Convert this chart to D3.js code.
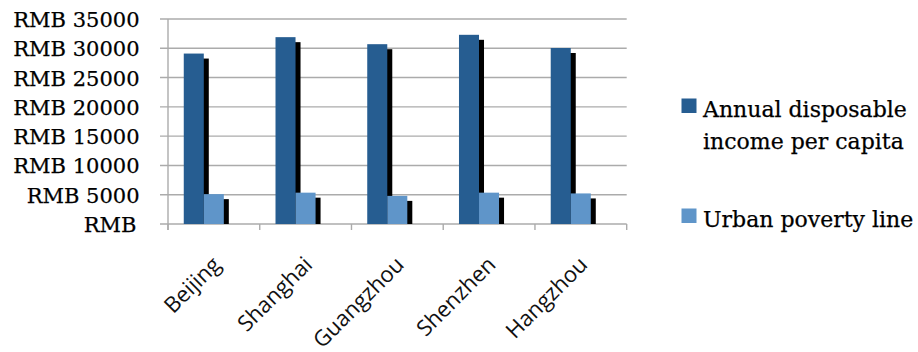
<!DOCTYPE html>
<html>
<head>
<meta charset="utf-8">
<script src="https://cdn.jsdelivr.net/npm/d3@7/dist/d3.min.js"></script>
<style>
  html, body { margin: 0; padding: 0; background: #fff; }
  svg { display: block; }
</style>
</head>
<body>
<svg id="chart" width="918" height="352"></svg>
<script>
// ---- data ----
const cities = ["Beijing", "Shanghai", "Guangzhou", "Shenzhen", "Hangzhou"];
const seriesNames = ["Annual disposable income per capita", "Urban poverty line"];
const incomeValues = [29100, 31900, 30700, 32300, 30050];
const povertyValues = [5100, 5350, 4800, 5350, 5220];
const yTicks = [0, 5000, 10000, 15000, 20000, 25000, 30000, 35000];
const yTickLabels = ["RMB", "RMB 5000", "RMB 10000", "RMB 15000", "RMB 20000", "RMB 25000", "RMB 30000", "RMB 35000"];
const seriesColors = ["#265d91", "#5f95c9"];
const legendLines = [["Annual disposable", "income per capita"], ["Urban poverty line"]];

// ---- layout ----
const plotLeft = 168, plotRight = 626.7, plotTop = 19, plotBottom = 224;
const svg = d3.select("#chart");

const y = d3.scaleLinear().domain([0, 35000]).range([plotBottom, plotTop]);
const x0 = d3.scaleBand().domain(cities).range([plotLeft, plotRight]).padding(0);
const x1 = d3.scaleBand().domain(seriesNames).range([0, x0.bandwidth()])
  .paddingInner(0).paddingOuter(1.29).align(0.305);

const serifFont = "'DejaVu Serif', serif";
const sansFont = "'Open Sans', sans-serif";

// gridlines
svg.append("g").selectAll("line").data(yTicks).join("line")
  .attr("x1", plotLeft - 8).attr("x2", plotRight)
  .attr("y1", d => y(d)).attr("y2", d => y(d))
  .attr("stroke", "#ababab").attr("stroke-width", 1.4);

// y axis line
svg.append("line")
  .attr("x1", plotLeft).attr("x2", plotLeft)
  .attr("y1", plotTop).attr("y2", plotBottom + 6)
  .attr("stroke", "#ababab").attr("stroke-width", 1.4);

// x category boundary ticks
const boundaries = cities.map(c => x0(c)).concat([x0.range()[1]]);
svg.append("g").selectAll("line").data(boundaries).join("line")
  .attr("x1", d => d).attr("x2", d => d)
  .attr("y1", plotBottom).attr("y2", plotBottom + 6)
  .attr("stroke", "#ababab").attr("stroke-width", 1.4);

// y labels
svg.append("g").selectAll("text").data(yTicks).join("text")
  .attr("x", (d, i) => i === 0 ? 136.5 : 139.5)
  .attr("y", d => y(d) + 8)
  .attr("text-anchor", "end")
  .attr("font-family", serifFont)
  .attr("font-size", 21)
  .attr("fill", "#000")
  .attr("stroke", "#000").attr("stroke-width", 0.25)
  .text((d, i) => yTickLabels[i]);

// bars data
const rows = cities.map((c, i) => ({
  city: c,
  values: [
    { key: seriesNames[0], value: incomeValues[i], color: seriesColors[0] },
    { key: seriesNames[1], value: povertyValues[i], color: seriesColors[1] }
  ]
}));

const groups = svg.append("g").selectAll("g").data(rows).join("g")
  .attr("transform", d => `translate(${x0(d.city)},0)`);

// shadows first
groups.selectAll("rect.shadow").data(d => d.values).join("rect")
  .attr("class", "shadow")
  .attr("x", d => x1(d.key) + 5)
  .attr("y", d => y(d.value) + 5)
  .attr("width", x1.bandwidth())
  .attr("height", d => Math.max(0, y(0) - y(d.value) - 5))
  .attr("fill", "#000");

groups.selectAll("rect.bar").data(d => d.values).join("rect")
  .attr("class", "bar")
  .attr("x", d => x1(d.key))
  .attr("y", d => y(d.value))
  .attr("width", x1.bandwidth())
  .attr("height", d => y(0) - y(d.value))
  .attr("fill", d => d.color);

// x labels
svg.append("g").selectAll("text").data(cities).join("text")
  .attr("transform", d => `translate(${x0(d) + x0.bandwidth() / 2 + 8},${266}) rotate(-45)`)
  .attr("text-anchor", "end")
  .attr("font-family", sansFont)
  .attr("font-size", 22)
  .attr("fill", "#111")
  .text(d => d);

// legend
const legendItems = seriesNames.map((s, i) => ({ name: s, color: seriesColors[i], lines: legendLines[i] }));
const legendY = [98.5, 208.5];
const lg = svg.append("g").selectAll("g").data(legendItems).join("g")
  .attr("transform", (d, i) => `translate(681.5,${legendY[i]})`);
lg.append("rect").attr("width", 15).attr("height", 14.5).attr("fill", d => d.color);
lg.append("text")
  .attr("font-family", serifFont)
  .attr("font-size", 22)
  .attr("fill", "#000")
  .attr("stroke", "#000").attr("stroke-width", 0.25)
  .selectAll("tspan").data(d => d.lines).join("tspan")
  .attr("x", 21.5)
  .attr("y", (d, i) => 18 + i * 32.5)
  .text(d => d);
</script>
</body>
</html>
